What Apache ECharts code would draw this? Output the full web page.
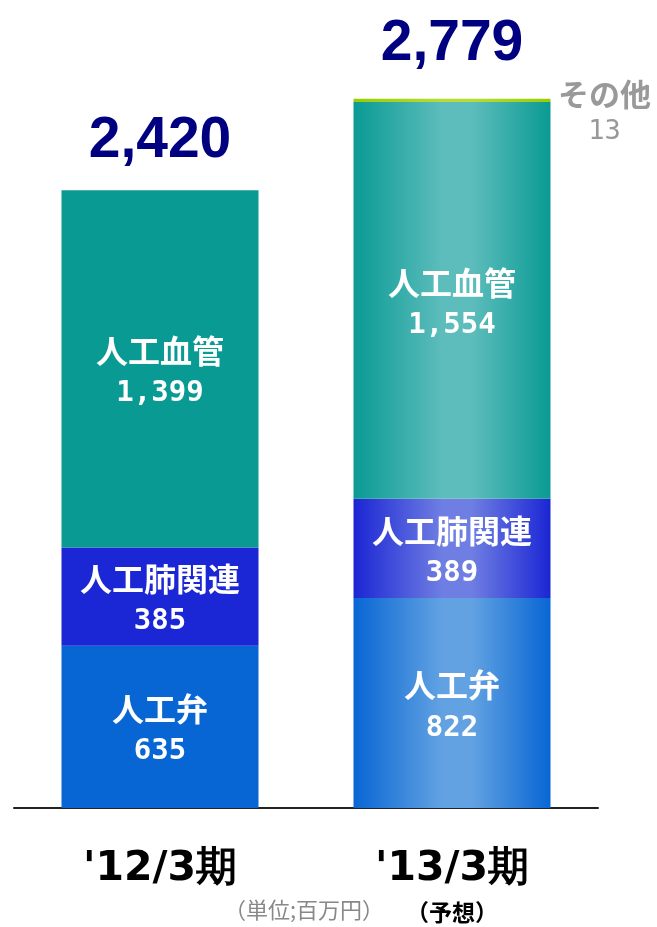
<!DOCTYPE html>
<html>
<head>
<meta charset="utf-8">
<script src="https://cdn.jsdelivr.net/npm/echarts@6/dist/echarts.min.js"></script>
<style>
  html, body { margin: 0; padding: 0; background: #fff; }
  #chart { width: 657px; height: 927px; }
</style>
</head>
<body>
<div id="chart"></div>
<script>
// データ（単位：百万円）
const categories = ["'12/3期", "'13/3期"]
const valve = [635, 822]        // 人工弁
const lung = [385, 389]         // 人工肺関連
const vessel = [1399, 1554]     // 人工血管
const other = ['-', 13]         // その他
const totals = [2420, 2779]

// 色（'13/3期は円柱風グラデーション）
const flat = { valve: '#0866d4', lung: '#1b26d4', vessel: '#0a9a94', other: '#99cc00' }
const light = { valve: '#62a2e2', lung: '#6f7ee2', vessel: '#5dbdbc', other: '#b8dc30' }

const cylinder = (edge, mid) => new echarts.graphic.LinearGradient(0, 0, 1, 0, [
  { offset: 0, color: edge },
  { offset: 0.45, color: mid },
  { offset: 0.6, color: mid },
  { offset: 1, color: edge }
])

const fmt = v => Number(v).toLocaleString('en-US')

const makeData = (values, key) => values.map((v, i) => ({
  value: v,
  itemStyle: { color: i === 1 ? cylinder(flat[key], light[key]) : flat[key] }
}))

const inLabel = {
  show: true,
  position: 'inside',
  offset: [0, 5],
  formatter: p => '{n|' + p.seriesName + '}\n{v|' + fmt(p.value) + '}',
  rich: {
    n: { color: '#fff', fontFamily: 'Noto Sans CJK JP', fontWeight: 'bold', fontSize: 32, lineHeight: 40 },
    v: { color: '#fff', fontFamily: 'DejaVu Sans Mono', fontWeight: 'bold', fontSize: 29, lineHeight: 46 }
  }
}

const chart = echarts.init(document.getElementById('chart'))

const option = {
  backgroundColor: '#fff',
  animation: false,
  grid: { left: 14, right: 59, top: 42, bottom: 119, containLabel: false, outerBoundsMode: 'none' },
  xAxis: {
    type: 'category',
    data: categories,
    axisLine: { lineStyle: { color: '#222', width: 2 } },
    axisTick: { show: false },
    axisLabel: {
      interval: 0,
      hideOverlap: false,
      margin: 38,
      color: '#000',
      fontFamily: 'DejaVu Sans',
      fontWeight: 'bold',
      fontSize: 41,
      lineHeight: 46,
      formatter: (v, i) => i === 1 ? v + '\n{s|（予想）}' : v,
      rich: {
        s: { fontFamily: 'Noto Sans CJK JP', fontWeight: 'bold', fontSize: 23, color: '#000', lineHeight: 40 }
      }
    }
  },
  yAxis: { type: 'value', min: 0, max: 3000, show: false },
  series: [
    { name: '人工弁', type: 'bar', stack: 'a', barWidth: 197, data: makeData(valve, 'valve'), label: inLabel },
    { name: '人工肺関連', type: 'bar', stack: 'a', data: makeData(lung, 'lung'), label: inLabel },
    { name: '人工血管', type: 'bar', stack: 'a', data: makeData(vessel, 'vessel'), label: inLabel },
    {
      name: 'その他', type: 'bar', stack: 'a', data: makeData(other, 'other'),
      label: {
        show: true,
        position: 'right',
        distance: 4,
        offset: [50, 13],
        align: 'center',
        formatter: p => '{n|' + p.seriesName + '}\n{v|' + fmt(p.value) + '}',
        rich: {
          n: { color: '#999', fontFamily: 'Noto Sans CJK JP', fontWeight: 'bold', fontSize: 31, lineHeight: 38 },
          v: { color: '#999', fontFamily: 'DejaVu Sans Mono', fontSize: 27, lineHeight: 38 }
        }
      }
    },
    {
      name: '合計', type: 'scatter', symbolSize: 0,
      itemStyle: { opacity: 1 },
      data: totals.map((v, i) => ({ value: v, label: { distance: i === 0 ? 20 : 26 } })),
      label: {
        show: true,
        position: 'top',
        color: '#000080',
        fontFamily: 'Liberation Sans',
        fontWeight: 'bold',
        fontSize: 57,
        formatter: p => fmt(p.value)
      }
    }
  ],
  graphic: [
    {
      type: 'text', left: 224, top: 899,
      style: { text: '（単位;百万円）', fill: '#888', font: '22px "Noto Sans CJK JP"' }
    }
  ]
}

chart.setOption(option)
</script>
</body>
</html>
